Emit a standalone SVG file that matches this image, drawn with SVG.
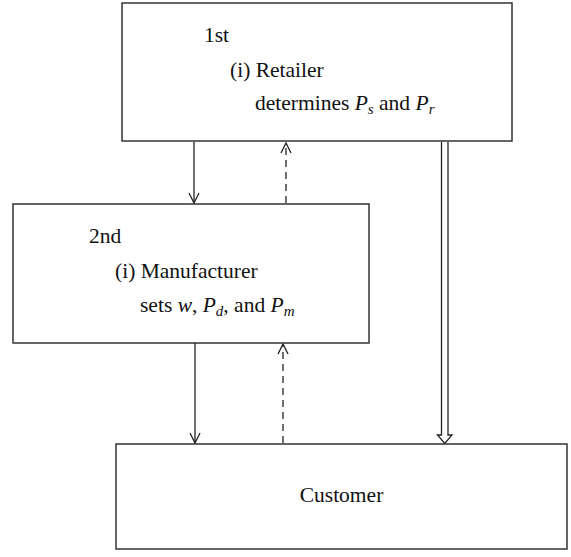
<svg xmlns="http://www.w3.org/2000/svg" width="571" height="557" viewBox="0 0 571 557">
<defs>
<style>
.box{fill:#fff;stroke:#333;stroke-width:1.5}
.ln{fill:none;stroke:#222;stroke-width:1.3}
.dash{fill:none;stroke:#222;stroke-width:1.3;stroke-dasharray:7,5}
.t{font-family:"Liberation Serif","Times New Roman",serif;font-size:21.5px;fill:#111}
.i{font-style:italic}
.sub{font-style:italic;font-size:15px}
</style>
<marker id="open" viewBox="0 0 12 12" refX="11" refY="6" markerWidth="12" markerHeight="12" markerUnits="userSpaceOnUse" orient="auto">
<path d="M1,1 L11,6 L1,11" fill="none" stroke="#222" stroke-width="1.3"/>
</marker>
</defs>
<rect width="571" height="557" fill="#fff"/>
<g id="connectors">
<line class="ln" x1="194" y1="142" x2="194" y2="203" marker-end="url(#open)"/>
<line class="dash" x1="286" y1="203" x2="286" y2="143" marker-end="url(#open)"/>
<line class="ln" x1="195" y1="343" x2="195" y2="443" marker-end="url(#open)"/>
<line class="dash" x1="283" y1="443" x2="283" y2="344" marker-end="url(#open)"/>
<path d="M441.5,142 V435 H437.5 L444.75,443.5 L452,435 H448 V142" fill="#fff" stroke="#222" stroke-width="1.3"/>
</g>
<g id="retailer">
<rect class="box" x="122" y="3" width="390" height="138"/>
<text class="t" x="204" y="42">1st</text>
<text class="t" x="230" y="77">(i) Retailer</text>
<text class="t" x="255" y="110">determines <tspan class="i">P</tspan><tspan class="sub" dy="4">s</tspan><tspan dy="-4"> and </tspan><tspan class="i">P</tspan><tspan class="sub" dy="4">r</tspan></text>
</g>
<g id="manufacturer">
<rect class="box" x="13" y="204" width="356" height="139"/>
<text class="t" x="89" y="243">2nd</text>
<text class="t" x="115" y="278">(i) Manufacturer</text>
<text class="t" x="140" y="312">sets <tspan class="i">w</tspan>, <tspan class="i">P</tspan><tspan class="sub" dy="4">d</tspan><tspan dy="-4">, and </tspan><tspan class="i">P</tspan><tspan class="sub" dy="4">m</tspan></text>
</g>
<g id="customer">
<rect class="box" x="116" y="444" width="451" height="105"/>
<text class="t" x="341.5" y="502" text-anchor="middle">Customer</text>
</g>
</svg>
